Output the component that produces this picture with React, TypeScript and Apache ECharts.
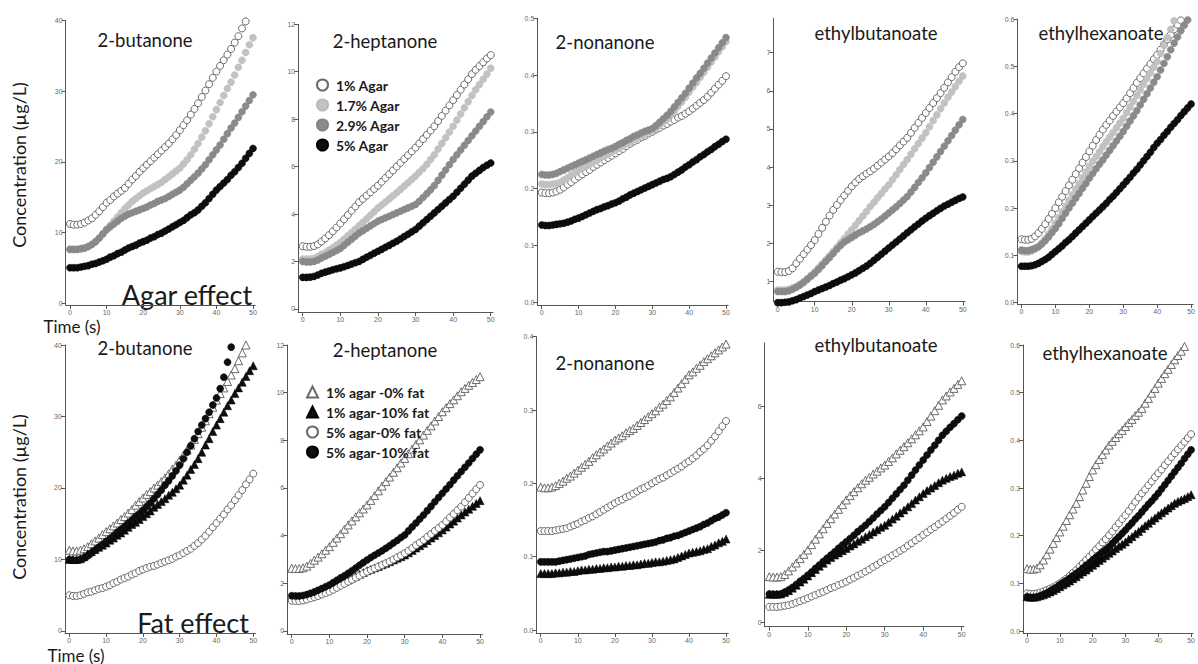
import React, { useEffect, useRef } from "react";
import * as echarts from "echarts";

// ---------- DATA ----------
const TIME = [0,1,2,3,4,5,6,7,8,9,10,11,12,13,14,15,16,17,18,19,20,21,22,23,24,25,26,27,28,29,30,31,32,33,34,35,36,37,38,39,40,41,42,43,44,45,46,47,48,49,50];
const X_TICKS = [0, 10, 20, 30, 40, 50];

const COMPOUNDS = ["2-butanone", "2-heptanone", "2-nonanone", "ethylbutanoate", "ethylhexanoate"];
const AGAR_NAMES = ["1% Agar", "1.7% Agar", "2.9% Agar", "5% Agar"];
const FAT_NAMES = ["1% agar -0% fat", "1% agar-10% fat", "5% agar-0% fat", "5% agar-10% fat"];

// Agar effect (row 1)
const butanoneAgar1 = [11.2,11.1,11.1,11.2,11.4,11.7,12.0,12.5,13.0,13.6,14.2,14.6,15.1,15.5,15.9,16.3,16.9,17.5,18.0,18.6,19.1,19.6,20.1,20.6,21.1,21.6,22.1,22.6,23.2,23.8,24.5,25.2,25.9,26.7,27.5,28.3,29.2,30.1,31.0,31.9,32.8,33.6,34.4,35.2,36.0,36.9,37.8,38.9,39.9];
const butanoneAgar17 = [7.6,7.6,7.6,7.7,7.8,8.0,8.3,8.7,9.2,9.8,10.4,11.0,11.6,12.2,12.8,13.4,13.9,14.4,14.8,15.2,15.6,15.9,16.2,16.5,16.8,17.1,17.5,17.9,18.3,18.7,19.1,19.7,20.3,21.0,21.8,22.6,23.5,24.4,25.4,26.4,27.4,28.4,29.4,30.4,31.3,32.3,33.4,34.4,35.5,36.6,37.6];
const butanoneAgar29 = [7.6,7.6,7.6,7.7,7.8,8.0,8.3,8.7,9.2,9.8,10.4,10.8,11.2,11.6,12.0,12.3,12.6,12.8,13.0,13.2,13.4,13.6,13.9,14.1,14.4,14.6,14.8,15.1,15.4,15.7,16.0,16.4,16.9,17.4,17.9,18.4,19.0,19.6,20.3,21.0,21.7,22.4,23.2,24.0,24.8,25.5,26.3,27.1,27.9,28.7,29.5];
const butanoneAgar5 = [5.0,5.0,5.0,5.1,5.2,5.3,5.5,5.6,5.8,6.0,6.2,6.5,6.7,7.0,7.2,7.5,7.8,8.0,8.2,8.5,8.7,8.9,9.2,9.4,9.7,9.9,10.2,10.5,10.8,11.1,11.4,11.7,12.1,12.5,12.8,13.2,13.7,14.2,14.8,15.4,16.0,16.5,17.0,17.5,18.1,18.6,19.2,19.8,20.5,21.2,21.9];

const heptanoneAgar1 = [2.64,2.62,2.62,2.65,2.72,2.84,2.97,3.11,3.27,3.43,3.6,3.78,3.96,4.14,4.32,4.5,4.64,4.78,4.92,5.06,5.2,5.36,5.52,5.68,5.84,6.0,6.16,6.32,6.48,6.64,6.8,6.98,7.16,7.34,7.52,7.7,7.92,8.14,8.36,8.58,8.8,9.02,9.24,9.46,9.68,9.9,10.08,10.24,10.4,10.56,10.7];
const heptanoneAgar17 = [2.1,2.1,2.1,2.13,2.2,2.3,2.38,2.48,2.58,2.69,2.8,2.94,3.08,3.22,3.36,3.5,3.65,3.8,3.95,4.1,4.25,4.38,4.51,4.64,4.77,4.9,5.04,5.18,5.32,5.46,5.6,5.76,5.92,6.1,6.3,6.5,6.74,6.98,7.22,7.46,7.7,7.96,8.22,8.48,8.74,9.0,9.24,9.46,9.68,9.9,10.15];
const heptanoneAgar29 = [2.0,1.98,1.98,2.0,2.06,2.15,2.22,2.3,2.38,2.46,2.55,2.68,2.81,2.94,3.07,3.2,3.3,3.4,3.5,3.6,3.7,3.77,3.84,3.91,3.98,4.05,4.12,4.19,4.26,4.33,4.4,4.54,4.7,4.86,5.02,5.2,5.42,5.64,5.86,6.08,6.3,6.5,6.7,6.9,7.1,7.3,7.5,7.7,7.9,8.1,8.3];
const heptanoneAgar5 = [1.33,1.33,1.34,1.37,1.43,1.5,1.55,1.6,1.65,1.69,1.73,1.78,1.83,1.89,1.95,2.0,2.09,2.18,2.26,2.35,2.43,2.51,2.6,2.68,2.77,2.85,2.95,3.05,3.15,3.25,3.35,3.49,3.63,3.77,3.91,4.05,4.19,4.33,4.47,4.61,4.75,4.92,5.09,5.26,5.43,5.6,5.72,5.84,5.96,6.06,6.15];

const nonanoneAgar1 = [0.193,0.192,0.192,0.193,0.195,0.198,0.202,0.207,0.211,0.216,0.221,0.225,0.229,0.233,0.238,0.242,0.246,0.25,0.254,0.258,0.262,0.266,0.27,0.275,0.279,0.283,0.286,0.29,0.293,0.297,0.3,0.304,0.307,0.311,0.314,0.318,0.321,0.325,0.328,0.332,0.336,0.341,0.346,0.351,0.356,0.362,0.369,0.376,0.383,0.39,0.398];
const nonanoneAgar17 = [0.208,0.207,0.207,0.208,0.209,0.211,0.215,0.219,0.224,0.228,0.233,0.236,0.24,0.243,0.247,0.25,0.254,0.257,0.261,0.264,0.268,0.271,0.275,0.279,0.282,0.286,0.289,0.293,0.296,0.3,0.303,0.306,0.311,0.317,0.323,0.33,0.337,0.345,0.353,0.361,0.37,0.379,0.387,0.396,0.405,0.414,0.423,0.432,0.441,0.45,0.459];
const nonanoneAgar29 = [0.225,0.224,0.224,0.225,0.227,0.23,0.233,0.236,0.239,0.242,0.245,0.248,0.251,0.254,0.257,0.26,0.263,0.266,0.269,0.271,0.274,0.278,0.281,0.285,0.288,0.292,0.295,0.298,0.301,0.303,0.306,0.311,0.317,0.323,0.329,0.336,0.344,0.352,0.36,0.368,0.377,0.386,0.395,0.403,0.412,0.421,0.43,0.439,0.448,0.457,0.466];
const nonanoneAgar5 = [0.136,0.135,0.135,0.136,0.137,0.138,0.139,0.141,0.143,0.146,0.148,0.151,0.154,0.157,0.16,0.163,0.165,0.168,0.17,0.173,0.175,0.178,0.182,0.185,0.189,0.192,0.195,0.198,0.201,0.204,0.207,0.21,0.213,0.216,0.218,0.221,0.225,0.229,0.233,0.238,0.242,0.247,0.251,0.256,0.26,0.265,0.269,0.274,0.278,0.283,0.287];

const ebAgar1 = [1.26,1.25,1.25,1.28,1.35,1.48,1.6,1.72,1.84,1.96,2.09,2.25,2.41,2.57,2.73,2.88,3.01,3.14,3.26,3.38,3.5,3.6,3.69,3.76,3.83,3.89,3.96,4.04,4.12,4.2,4.28,4.37,4.47,4.57,4.67,4.77,4.9,5.03,5.16,5.29,5.42,5.55,5.68,5.81,5.94,6.08,6.22,6.36,6.5,6.62,6.72];
const ebAgar17 = [0.78,0.78,0.78,0.8,0.83,0.87,0.93,1.0,1.08,1.17,1.26,1.36,1.47,1.57,1.68,1.79,1.9,2.02,2.13,2.25,2.36,2.48,2.6,2.72,2.84,2.97,3.08,3.2,3.31,3.43,3.54,3.67,3.8,3.94,4.07,4.2,4.34,4.48,4.62,4.76,4.9,5.06,5.22,5.37,5.53,5.68,5.83,5.97,6.11,6.25,6.39];
const ebAgar29 = [0.74,0.74,0.74,0.76,0.8,0.85,0.91,0.98,1.06,1.14,1.22,1.32,1.42,1.53,1.63,1.74,1.85,1.95,2.04,2.1,2.16,2.22,2.28,2.33,2.38,2.44,2.5,2.57,2.64,2.72,2.8,2.88,2.96,3.05,3.14,3.23,3.35,3.47,3.6,3.72,3.85,3.99,4.13,4.27,4.41,4.55,4.69,4.83,4.97,5.11,5.25];
const ebAgar5 = [0.45,0.45,0.46,0.47,0.5,0.53,0.57,0.61,0.65,0.69,0.74,0.78,0.82,0.86,0.9,0.95,0.99,1.04,1.08,1.13,1.18,1.23,1.29,1.35,1.41,1.48,1.56,1.64,1.72,1.8,1.88,1.96,2.04,2.12,2.2,2.28,2.36,2.44,2.51,2.59,2.66,2.73,2.79,2.86,2.92,2.98,3.03,3.08,3.13,3.18,3.22];

const ehAgar1 = [0.134,0.133,0.133,0.135,0.14,0.147,0.156,0.166,0.177,0.188,0.2,0.212,0.224,0.236,0.248,0.26,0.272,0.284,0.296,0.308,0.32,0.332,0.344,0.355,0.366,0.376,0.385,0.395,0.404,0.413,0.422,0.432,0.443,0.454,0.465,0.475,0.485,0.495,0.505,0.515,0.524,0.535,0.546,0.557,0.567,0.578,0.588,0.597];
const ehAgar17 = [0.108,0.107,0.107,0.109,0.113,0.118,0.126,0.135,0.145,0.156,0.168,0.18,0.192,0.204,0.216,0.228,0.24,0.252,0.264,0.276,0.288,0.299,0.309,0.319,0.33,0.34,0.35,0.36,0.37,0.38,0.39,0.402,0.414,0.426,0.438,0.45,0.462,0.474,0.486,0.498,0.51,0.527,0.544,0.561,0.578,0.596];
const ehAgar29 = [0.111,0.11,0.11,0.112,0.115,0.118,0.124,0.131,0.139,0.148,0.157,0.167,0.178,0.189,0.2,0.21,0.221,0.231,0.242,0.252,0.263,0.273,0.283,0.293,0.302,0.312,0.322,0.332,0.342,0.352,0.362,0.373,0.384,0.395,0.406,0.418,0.43,0.442,0.454,0.466,0.478,0.492,0.506,0.52,0.535,0.549,0.562,0.575,0.587,0.598];
const ehAgar5 = [0.077,0.077,0.077,0.078,0.08,0.083,0.087,0.091,0.096,0.102,0.108,0.114,0.12,0.127,0.133,0.14,0.147,0.154,0.161,0.168,0.175,0.182,0.189,0.196,0.203,0.21,0.218,0.225,0.233,0.241,0.249,0.257,0.265,0.274,0.282,0.291,0.3,0.309,0.318,0.328,0.337,0.345,0.354,0.362,0.371,0.379,0.387,0.396,0.404,0.412,0.42];

// Fat effect (row 2)
const butanoneFat1_0 = [11.3,11.2,11.2,11.3,11.5,11.8,12.2,12.6,13.0,13.5,13.9,14.3,14.7,15.1,15.6,16.0,16.5,17.0,17.6,18.1,18.6,19.1,19.5,20.0,20.4,20.9,21.4,22.0,22.6,23.2,23.9,24.6,25.3,26.0,26.8,27.6,28.5,29.4,30.4,31.3,32.3,33.2,34.0,34.9,35.8,36.7,37.8,38.9,40.0];
const butanoneFat1_10 = [10.0,10.0,10.0,10.1,10.4,10.8,11.1,11.4,11.7,12.0,12.3,12.7,13.0,13.4,13.7,14.1,14.5,14.9,15.2,15.6,16.0,16.4,16.8,17.3,17.7,18.1,18.5,19.0,19.4,19.9,20.4,21.1,21.8,22.6,23.3,24.1,25.0,26.0,26.9,27.9,28.8,29.7,30.6,31.5,32.3,33.2,34.0,34.8,35.6,36.4,37.1];
const butanoneFat5_0 = [5.0,4.9,4.9,5.0,5.2,5.4,5.5,5.7,5.9,6.0,6.2,6.4,6.7,6.9,7.2,7.4,7.6,7.9,8.1,8.4,8.6,8.8,9.0,9.1,9.3,9.5,9.7,9.9,10.1,10.4,10.6,10.9,11.2,11.5,11.9,12.3,12.8,13.3,13.9,14.5,15.1,15.7,16.3,17.0,17.6,18.3,19.0,19.7,20.5,21.2,22.0];
const butanoneFat5_10 = [10.0,9.9,9.9,10.0,10.2,10.5,10.9,11.3,11.7,12.1,12.5,12.9,13.3,13.8,14.2,14.6,15.1,15.5,16.0,16.4,16.9,17.4,17.9,18.5,19.1,19.7,20.4,21.0,21.7,22.4,23.2,24.1,25.0,25.9,26.9,27.9,28.8,29.7,30.6,31.6,32.6,33.9,35.5,37.6,39.7];

const heptanoneFat1_0 = [2.63,2.62,2.62,2.65,2.72,2.84,2.97,3.1,3.24,3.39,3.54,3.72,3.9,4.08,4.27,4.45,4.62,4.79,4.96,5.12,5.29,5.48,5.68,5.88,6.08,6.27,6.46,6.66,6.85,7.05,7.24,7.44,7.63,7.83,8.02,8.22,8.42,8.61,8.81,9.0,9.2,9.37,9.54,9.7,9.87,10.04,10.18,10.31,10.43,10.55,10.67];
const heptanoneFat1_10 = [1.44,1.44,1.44,1.45,1.48,1.51,1.56,1.61,1.67,1.73,1.79,1.86,1.93,2.0,2.07,2.14,2.22,2.3,2.38,2.45,2.53,2.59,2.65,2.71,2.78,2.84,2.91,2.98,3.05,3.12,3.19,3.28,3.38,3.48,3.58,3.68,3.79,3.9,4.01,4.12,4.24,4.36,4.49,4.61,4.74,4.87,4.99,5.11,5.23,5.35,5.47];
const heptanoneFat5_0 = [1.27,1.26,1.26,1.28,1.32,1.37,1.42,1.47,1.53,1.59,1.65,1.73,1.81,1.9,1.98,2.07,2.15,2.24,2.32,2.41,2.49,2.56,2.63,2.7,2.77,2.84,2.92,3.0,3.09,3.17,3.26,3.37,3.48,3.6,3.71,3.82,3.95,4.07,4.2,4.32,4.45,4.6,4.76,4.91,5.07,5.22,5.4,5.58,5.77,5.95,6.13];
const heptanoneFat5_10 = [1.48,1.47,1.47,1.49,1.53,1.58,1.64,1.71,1.78,1.86,1.93,2.03,2.13,2.23,2.32,2.42,2.53,2.64,2.76,2.87,2.98,3.08,3.18,3.27,3.37,3.47,3.58,3.69,3.8,3.92,4.03,4.2,4.37,4.53,4.7,4.87,5.05,5.23,5.42,5.6,5.78,5.96,6.14,6.33,6.51,6.69,6.87,7.05,7.24,7.42,7.6];

const nonanoneFat1_0 = [0.195,0.194,0.194,0.195,0.197,0.2,0.203,0.207,0.21,0.214,0.218,0.222,0.226,0.23,0.235,0.239,0.243,0.247,0.251,0.255,0.259,0.262,0.265,0.269,0.272,0.275,0.279,0.283,0.287,0.291,0.295,0.299,0.304,0.308,0.313,0.318,0.324,0.33,0.336,0.342,0.348,0.352,0.357,0.361,0.366,0.37,0.374,0.378,0.382,0.386,0.39];
const nonanoneFat1_10 = [0.077,0.077,0.077,0.077,0.078,0.078,0.079,0.079,0.08,0.08,0.081,0.082,0.082,0.083,0.083,0.084,0.084,0.085,0.085,0.086,0.086,0.087,0.087,0.088,0.088,0.089,0.089,0.09,0.091,0.091,0.092,0.093,0.093,0.094,0.095,0.096,0.097,0.099,0.101,0.103,0.105,0.106,0.107,0.108,0.11,0.111,0.114,0.116,0.119,0.121,0.124];
const nonanoneFat5_0 = [0.135,0.135,0.135,0.135,0.136,0.137,0.138,0.139,0.141,0.143,0.145,0.148,0.15,0.153,0.155,0.158,0.161,0.164,0.167,0.17,0.173,0.176,0.178,0.181,0.183,0.186,0.189,0.192,0.194,0.197,0.2,0.203,0.206,0.208,0.211,0.214,0.217,0.22,0.223,0.227,0.23,0.234,0.238,0.243,0.247,0.252,0.258,0.264,0.271,0.278,0.285];
const nonanoneFat5_10 = [0.093,0.093,0.093,0.093,0.093,0.094,0.095,0.096,0.097,0.098,0.099,0.1,0.101,0.103,0.104,0.105,0.106,0.107,0.107,0.108,0.109,0.11,0.111,0.112,0.113,0.114,0.115,0.116,0.117,0.118,0.119,0.12,0.122,0.123,0.125,0.126,0.128,0.129,0.131,0.133,0.135,0.137,0.139,0.141,0.144,0.146,0.149,0.152,0.154,0.157,0.16];

const ebFat1_0 = [1.28,1.27,1.27,1.28,1.34,1.44,1.55,1.66,1.78,1.9,2.02,2.17,2.32,2.47,2.61,2.76,2.89,3.02,3.15,3.28,3.41,3.53,3.64,3.75,3.86,3.96,4.04,4.13,4.21,4.3,4.38,4.48,4.58,4.69,4.79,4.89,5.0,5.11,5.22,5.33,5.44,5.59,5.74,5.89,6.04,6.19,6.3,6.41,6.51,6.62,6.72];
const ebFat1_10 = [0.79,0.79,0.79,0.8,0.84,0.89,0.96,1.04,1.13,1.21,1.3,1.39,1.48,1.57,1.65,1.74,1.81,1.88,1.94,2.0,2.06,2.13,2.19,2.26,2.32,2.39,2.45,2.52,2.58,2.65,2.71,2.79,2.88,2.96,3.05,3.13,3.22,3.31,3.41,3.5,3.59,3.67,3.74,3.81,3.89,3.96,4.01,4.06,4.1,4.15,4.19];
const ebFat5_0 = [0.44,0.44,0.44,0.45,0.47,0.49,0.52,0.56,0.6,0.64,0.68,0.73,0.77,0.82,0.86,0.91,0.96,1.0,1.05,1.09,1.14,1.2,1.25,1.31,1.36,1.42,1.48,1.55,1.61,1.68,1.74,1.8,1.87,1.93,2.0,2.06,2.14,2.21,2.29,2.36,2.44,2.51,2.59,2.66,2.74,2.81,2.89,2.97,3.05,3.14,3.22];
const ebFat5_10 = [0.8,0.79,0.79,0.8,0.85,0.91,0.98,1.06,1.15,1.23,1.32,1.41,1.51,1.6,1.7,1.79,1.88,1.97,2.07,2.16,2.25,2.34,2.43,2.53,2.62,2.71,2.81,2.91,3.02,3.12,3.22,3.34,3.46,3.58,3.7,3.82,3.96,4.1,4.24,4.38,4.52,4.66,4.8,4.93,5.07,5.21,5.32,5.43,5.53,5.64,5.74];

const ehFat1_0 = [0.131,0.13,0.13,0.132,0.139,0.149,0.16,0.172,0.184,0.196,0.208,0.22,0.232,0.244,0.256,0.268,0.282,0.296,0.31,0.324,0.338,0.349,0.36,0.37,0.38,0.39,0.398,0.406,0.414,0.421,0.429,0.437,0.444,0.452,0.459,0.467,0.478,0.488,0.499,0.509,0.52,0.53,0.54,0.549,0.559,0.569,0.578,0.587,0.597];
const ehFat1_10 = [0.072,0.071,0.071,0.072,0.074,0.076,0.079,0.082,0.085,0.089,0.093,0.097,0.101,0.105,0.11,0.114,0.119,0.124,0.128,0.133,0.138,0.143,0.148,0.153,0.158,0.163,0.168,0.173,0.178,0.182,0.187,0.193,0.198,0.204,0.209,0.215,0.221,0.226,0.232,0.237,0.243,0.248,0.253,0.258,0.263,0.268,0.272,0.275,0.278,0.282,0.286];
const ehFat5_0 = [0.079,0.078,0.078,0.079,0.081,0.083,0.086,0.089,0.092,0.096,0.1,0.105,0.11,0.116,0.122,0.128,0.135,0.142,0.149,0.156,0.163,0.171,0.178,0.186,0.193,0.201,0.209,0.218,0.226,0.235,0.243,0.252,0.261,0.271,0.28,0.289,0.297,0.306,0.314,0.323,0.331,0.339,0.348,0.356,0.365,0.373,0.381,0.389,0.397,0.405,0.413];
const ehFat5_10 = [0.072,0.071,0.071,0.072,0.074,0.077,0.08,0.084,0.088,0.092,0.097,0.102,0.106,0.111,0.116,0.121,0.126,0.132,0.138,0.143,0.149,0.155,0.16,0.166,0.171,0.177,0.184,0.191,0.198,0.205,0.212,0.22,0.227,0.235,0.242,0.25,0.258,0.266,0.273,0.281,0.289,0.298,0.307,0.316,0.325,0.334,0.343,0.352,0.362,0.371,0.38];

// y tick values per panel
const Y_TICKS_BUTANONE = [0, 10, 20, 30, 40];
const Y_TICKS_HEPTANONE = [0, 2, 4, 6, 8, 10, 12];
const Y_TICKS_NONANONE_AGAR = [0, 0.1, 0.2, 0.3, 0.4, 0.5];
const Y_TICKS_EB_AGAR = [1, 2, 3, 4, 5, 6, 7];
const Y_TICKS_EH = [0, 0.1, 0.2, 0.3, 0.4, 0.5, 0.6];
const Y_TICKS_NONANONE_FAT = [0, 0.1, 0.2, 0.3, 0.4];
const Y_TICKS_EB_FAT = [0, 2, 4, 6];

const AGAR_SERIES = [
  [butanoneAgar1, butanoneAgar17, butanoneAgar29, butanoneAgar5],
  [heptanoneAgar1, heptanoneAgar17, heptanoneAgar29, heptanoneAgar5],
  [nonanoneAgar1, nonanoneAgar17, nonanoneAgar29, nonanoneAgar5],
  [ebAgar1, ebAgar17, ebAgar29, ebAgar5],
  [ehAgar1, ehAgar17, ehAgar29, ehAgar5],
];
const FAT_SERIES = [
  [butanoneFat1_0, butanoneFat1_10, butanoneFat5_0, butanoneFat5_10],
  [heptanoneFat1_0, heptanoneFat1_10, heptanoneFat5_0, heptanoneFat5_10],
  [nonanoneFat1_0, nonanoneFat1_10, nonanoneFat5_0, nonanoneFat5_10],
  [ebFat1_0, ebFat1_10, ebFat5_0, ebFat5_10],
  [ehFat1_0, ehFat1_10, ehFat5_0, ehFat5_10],
];

// ---------- LAYOUT / STYLE ----------
const PANELS = [
  { left: 65.6, top: 20.7, width: 189.6, height: 284.3, yMin: -0.28, yMax: 40, ticks: Y_TICKS_BUTANONE, dec: 0, tx: 145, ty: 40 },
  { left: 298.2, top: 24.3, width: 194.8, height: 287.7, yMin: -0.13, yMax: 12, ticks: Y_TICKS_HEPTANONE, dec: 0, tx: 385, ty: 41 },
  { left: 537.3, top: 18.3, width: 190.9, height: 286.7, yMin: -0.005, yMax: 0.5, ticks: Y_TICKS_NONANONE_AGAR, dec: 1, tx: 605, ty: 42 },
  { left: 773.3, top: 18.3, width: 191.7, height: 283.4, yMin: 0.475, yMax: 7.9, ticks: Y_TICKS_EB_AGAR, dec: 0, tx: 876, ty: 33 },
  { left: 1017.4, top: 19, width: 187.8, height: 285, yMin: -0.003, yMax: 0.6, ticks: Y_TICKS_EH, dec: 1, tx: 1101, ty: 33 },
  { left: 64.9, top: 345, width: 190.6, height: 288, yMin: -0.28, yMax: 40, ticks: Y_TICKS_BUTANONE, dec: 0, tx: 145, ty: 348 },
  { left: 287.2, top: 345, width: 195.1, height: 289, yMin: -0.126, yMax: 12, ticks: Y_TICKS_HEPTANONE, dec: 0, tx: 385, ty: 350 },
  { left: 536.3, top: 336.7, width: 192, height: 296.3, yMin: -0.004, yMax: 0.4, ticks: Y_TICKS_NONANONE_FAT, dec: 1, tx: 605, ty: 363 },
  { left: 764.7, top: 343, width: 199.3, height: 283.7, yMin: -0.11, yMax: 7.77, ticks: Y_TICKS_EB_FAT, dec: 0, tx: 876, ty: 345 },
  { left: 1023.1, top: 345, width: 180.5, height: 288, yMin: -0.004, yMax: 0.6, ticks: Y_TICKS_EH, dec: 1, tx: 1105, ty: 353 },
];
const X_MIN = -1.2;
const X_MAX = 50.6;

const AGAR_STYLES = [
  { symbol: "circle", size: 7, color: "#ffffff", border: "#6a6a6a", bw: 1 },
  { symbol: "circle", size: 7, color: "#c2c2c2", border: "#bababa", bw: 0.5 },
  { symbol: "circle", size: 7, color: "#8a8a8a", border: "#848484", bw: 0.5 },
  { symbol: "circle", size: 7, color: "#0e0e0e", border: "#000000", bw: 0.5 },
];
const FAT_STYLES = [
  { symbol: "triangle", size: 8, color: "#ffffff", border: "#6a6a6a", bw: 1 },
  { symbol: "triangle", size: 8, color: "#0e0e0e", border: "#000000", bw: 0.5 },
  { symbol: "circle", size: 7, color: "#ffffff", border: "#6a6a6a", bw: 1 },
  { symbol: "circle", size: 7, color: "#0e0e0e", border: "#000000", bw: 0.5 },
];

const TEXT_FONT = "Lato, 'Open Sans', sans-serif";
const TICK_FONT = "'Liberation Sans', Arial, sans-serif";

function buildOption() {
  const grid: any[] = [];
  const xAxis: any[] = [];
  const yAxis: any[] = [];
  const series: any[] = [];
  const graphic: any[] = [];

  PANELS.forEach((p, i) => {
    grid.push({ left: p.left, top: p.top, width: p.width, height: p.height, show: false });
    xAxis.push({
      type: "value",
      gridIndex: i,
      min: X_MIN,
      max: X_MAX,
      splitLine: { show: false },
      axisLine: { onZero: false, lineStyle: { color: "#555", width: 1 } },
      axisTick: { show: true, length: 4, customValues: X_TICKS, lineStyle: { color: "#555" } },
      axisLabel: { customValues: X_TICKS, fontSize: 7, color: "#666", fontFamily: TICK_FONT, margin: 4 },
    });
    const dec = p.dec;
    yAxis.push({
      type: "value",
      gridIndex: i,
      min: p.yMin,
      max: p.yMax,
      splitLine: { show: false },
      axisLine: { onZero: false, lineStyle: { color: "#555", width: 1 } },
      axisTick: { show: true, length: 4, customValues: p.ticks, lineStyle: { color: "#555" } },
      axisLabel: {
        customValues: p.ticks,
        fontSize: 7,
        color: "#666",
        fontFamily: TICK_FONT,
        margin: 3,
        formatter: (v: number) => v.toFixed(dec),
      },
    });

    const row = i < 5 ? 0 : 1;
    const col = i % 5;
    const dataSets = row === 0 ? AGAR_SERIES[col] : FAT_SERIES[col];
    const names = row === 0 ? AGAR_NAMES : FAT_NAMES;
    const styles = row === 0 ? AGAR_STYLES : FAT_STYLES;
    dataSets.forEach((vals, k) => {
      const st = styles[k];
      series.push({
        type: "scatter",
        name: names[k],
        xAxisIndex: i,
        yAxisIndex: i,
        symbol: st.symbol,
        symbolSize: st.size,
        clip: false,
        silent: true,
        itemStyle: { color: st.color, borderColor: st.border, borderWidth: st.bw, opacity: 1 },
        emphasis: { disabled: true },
        data: vals.map((v, j) => [TIME[j], v]),
      });
    });

    graphic.push({
      type: "text",
      x: p.tx,
      y: p.ty,
      silent: true,
      style: { text: COMPOUNDS[col], fontSize: 18.5, fontFamily: TEXT_FONT, fill: "#1a1a1a", align: "center", verticalAlign: "middle" },
    });
  });

  const sideTexts = [
    { text: "Agar effect", x: 187, y: 294, size: 27, rot: 0 },
    { text: "Fat effect", x: 193, y: 622, size: 27, rot: 0 },
    { text: "Time (s)", x: 72, y: 326, size: 17, rot: 0 },
    { text: "Time (s)", x: 76, y: 655, size: 17, rot: 0 },
    { text: "Concentration (µg/L)", x: 19, y: 165, size: 18, rot: Math.PI / 2 },
    { text: "Concentration (µg/L)", x: 19, y: 497, size: 18, rot: Math.PI / 2 },
  ];
  sideTexts.forEach((t) => {
    graphic.push({
      type: "text",
      x: t.x,
      y: t.y,
      rotation: t.rot,
      silent: true,
      style: { text: t.text, fontSize: t.size, fontFamily: TEXT_FONT, fill: "#1a1a1a", align: "center", verticalAlign: "middle" },
    });
  });

  const legendBase = {
    orient: "vertical",
    itemWidth: 11,
    itemHeight: 11,
    itemGap: 4,
    selectedMode: false,
    textStyle: { fontSize: 14, fontWeight: "bold", fontFamily: TEXT_FONT, color: "#1a1a1a", lineHeight: 16, padding: [0, 0, 0, 3] },
  };

  return {
    animation: false,
    backgroundColor: "#ffffff",
    grid,
    xAxis,
    yAxis,
    series,
    graphic,
    legend: [
      { ...legendBase, data: AGAR_NAMES, left: 311, top: 72 },
      { ...legendBase, data: FAT_NAMES, left: 301, top: 379 },
    ],
  };
}

export default function App() {
  const ref = useRef<HTMLDivElement>(null);
  useEffect(() => {
    if (!ref.current) return;
    const chart = echarts.init(ref.current, undefined, { renderer: "svg" });
    chart.setOption(buildOption() as any);
    return () => chart.dispose();
  }, []);
  return (
    <div
      ref={ref}
      style={{ position: "fixed", left: 0, top: 0, width: 1198, height: 664, background: "#fff" }}
    />
  );
}
